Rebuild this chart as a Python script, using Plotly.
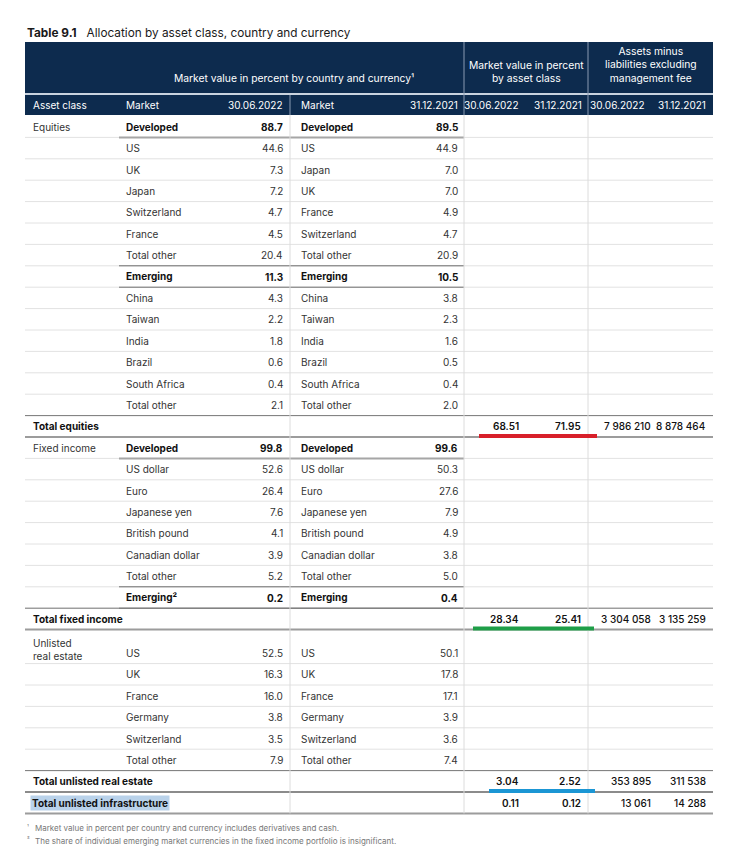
import plotly.graph_objects as go

# ---- data -------------------------------------------------------------
title_bold = "Table 9.1"
title_text = "Allocation by asset class, country and currency"

group_headers = [
    "Market value in percent by country and currency¹",
    "Market value in percent<br>by asset class",
    "Assets minus<br>liabilities excluding<br>management fee",
]
col_headers = ["Asset class", "Market", "30.06.2022", "Market", "31.12.2021",
               "30.06.2022", "31.12.2021", "30.06.2022", "31.12.2021"]

eq_market_22 = ["Developed", "US", "UK", "Japan", "Switzerland", "France", "Total other",
                "Emerging", "China", "Taiwan", "India", "Brazil", "South Africa", "Total other"]
eq_value_22 = [88.7, 44.6, 7.3, 7.2, 4.7, 4.5, 20.4, 11.3, 4.3, 2.2, 1.8, 0.6, 0.4, 2.1]
eq_market_21 = ["Developed", "US", "Japan", "UK", "France", "Switzerland", "Total other",
                "Emerging", "China", "Taiwan", "India", "Brazil", "South Africa", "Total other"]
eq_value_21 = [89.5, 44.9, 7.0, 7.0, 4.9, 4.7, 20.9, 10.5, 3.8, 2.3, 1.6, 0.5, 0.4, 2.0]

fi_market_22 = ["Developed", "US dollar", "Euro", "Japanese yen", "British pound",
                "Canadian dollar", "Total other", "Emerging²"]
fi_value_22 = [99.8, 52.6, 26.4, 7.6, 4.1, 3.9, 5.2, 0.2]
fi_market_21 = ["Developed", "US dollar", "Euro", "Japanese yen", "British pound",
                "Canadian dollar", "Total other", "Emerging"]
fi_value_21 = [99.6, 50.3, 27.6, 7.9, 4.9, 3.8, 5.0, 0.4]

re_market_22 = ["US", "UK", "France", "Germany", "Switzerland", "Total other"]
re_value_22 = [52.5, 16.3, 16.0, 3.8, 3.5, 7.9]
re_market_21 = ["US", "UK", "France", "Germany", "Switzerland", "Total other"]
re_value_21 = [50.1, 17.8, 17.1, 3.9, 3.6, 7.4]

total_labels = ["Total equities", "Total fixed income", "Total unlisted real estate",
                "Total unlisted infrastructure"]
total_pct_22 = [68.51, 28.34, 3.04, 0.11]
total_pct_21 = [71.95, 25.41, 2.52, 0.12]
total_amt_22 = [7986210, 3304058, 353895, 13061]
total_amt_21 = [8878464, 3135259, 311538, 14288]

footnotes = [
    ("¹", "Market value in percent per country and currency includes derivatives and cash."),
    ("²", "The share of individual emerging market currencies in the fixed income portfolio is insignificant."),
]

# ---- layout constants ---------------------------------------------------
FONT = "Inter, Roboto, sans-serif"
NAVY = "#0d2b4e"
PAGE_OFF = 8  # body margin of the html page
LEFT, RIGHT = 25, 713
X_ASSET, X_M22, X_V22, X_M21, X_V21 = 31, 124, 285, 299, 460
X_P22, X_P21, X_A22, X_A21 = 521, 583, 653, 708
SEP1, SEP2, SEP3 = 290, 464, 588
HEAD_TOP, HEAD_MID, HEAD_BOT = 42, 93, 115
ROW_H, TALL_H = 21.4, 34


def fmt_amt(v):
    return f"{v:,}".replace(",", " ")


rows = []


def add_section(asset, m22, v22, m21, v21, tall_first=False):
    for i in range(len(m22)):
        kind = "group" if m22[i].startswith(("Developed", "Emerging")) else "sub"
        rows.append(dict(kind=kind, asset=asset if i == 0 else "", m22=m22[i], v22=v22[i],
                         m21=m21[i], v21=v21[i], h=TALL_H if (tall_first and i == 0) else ROW_H))


def add_total(k):
    rows.append(dict(kind="total", asset=total_labels[k], p22=total_pct_22[k], p21=total_pct_21[k],
                     a22=total_amt_22[k], a21=total_amt_21[k], h=ROW_H, idx=k))


add_section("Equities", eq_market_22, eq_value_22, eq_market_21, eq_value_21)
add_total(0)
add_section("Fixed income", fi_market_22, fi_value_22, fi_market_21, fi_value_21)
add_total(1)
add_section("Unlisted<br>real estate", re_market_22, re_value_22, re_market_21, re_value_21, tall_first=True)
add_total(2)
add_total(3)

fig = go.Figure()
shapes, ann = [], []


def text(x, y, s, anchor="left", size=10, color="#333333", bold=False, weight=None, **kw):
    f = dict(family=FONT, size=size, color=color)
    if weight:
        f["weight"] = weight
    ann.append(dict(x=x, y=y, xref="x", yref="y", text=f"<b>{s}</b>" if bold else s,
                    showarrow=False, xanchor=anchor, yanchor=kw.pop("yanchor", "middle"),
                    font=f, **kw))


def hline(y, x0, x1, color, width):
    shapes.append(dict(type="line", xref="x", yref="y", x0=x0, x1=x1, y0=y, y1=y,
                       line=dict(color=color, width=width)))


def vline(x, y0, y1, color, width=1):
    shapes.append(dict(type="line", xref="x", yref="y", x0=x, x1=x, y0=y0, y1=y1,
                       line=dict(color=color, width=width)))


# title
text(LEFT, 33, f"<b>{title_bold}</b>&nbsp;&nbsp;&nbsp;{title_text}", size=11.8, color="#1a1a1a")

# header
shapes.append(dict(type="rect", xref="x", yref="y", x0=LEFT, x1=RIGHT, y0=HEAD_TOP, y1=HEAD_BOT,
                   fillcolor=NAVY, line=dict(width=0), layer="below"))
hline(HEAD_MID + 1, LEFT, RIGHT, "#c9d3df", 2)
text((X_M22 + SEP2) / 2, 78, group_headers[0], anchor="center", color="white", size=10.3)
text((SEP2 + SEP3) / 2, 86, group_headers[1], anchor="center", color="white", size=10.3,
     yanchor="bottom")
text((SEP3 + RIGHT) / 2, 86, group_headers[2], anchor="center", color="white", size=10.3,
     yanchor="bottom")
hy = (HEAD_MID + 2 + HEAD_BOT) / 2
head_x = [(X_ASSET, "left"), (X_M22, "left"), (X_V22, "right"), (X_M21, "left"), (X_V21, "right"),
          (X_P22, "right"), (X_P21 + 1, "right"), (647, "right"), (X_A21, "right")]
for (x, a), h in zip(head_x, col_headers):
    text(x, hy, h, anchor=a, color="white")

# rows
y = HEAD_BOT + 1
bounds = []
for r in rows:
    bounds.append((y, y + r["h"]))
    y += r["h"]
TABLE_BOT = y

for top, bot in bounds:
    hline(bot, LEFT, RIGHT, "#e2e2e2", 1)

for r, (top, bot) in zip(rows, bounds):
    mid = (top + bot) / 2
    if r["kind"] == "total":
        hline(top, LEFT, RIGHT, "#7a7a7a", 1)
        hline(bot, LEFT, RIGHT, "#9c9c9c", 2)
        if r["idx"] == 3:
            ann.append(dict(x=X_ASSET - 1, y=mid, xref="x", yref="y", text=f"<b>{r['asset']}</b>",
                            showarrow=False, xanchor="left", yanchor="middle", bgcolor="#b9d2ea",
                            borderpad=1, font=dict(family=FONT, size=10, color="#111111")))
        else:
            text(X_ASSET, mid, r["asset"], bold=True, color="#111111")
        text(X_P22, mid, f"{r['p22']:.2f}", anchor="right", weight=600, color="#111111")
        text(X_P21, mid, f"{r['p21']:.2f}", anchor="right", weight=600, color="#111111")
        text(X_A22, mid, fmt_amt(r["a22"]), anchor="right", weight=500, color="#111111")
        text(X_A21, mid, fmt_amt(r["a21"]), anchor="right", weight=500, color="#111111")
    else:
        bold = r["kind"] == "group"
        if r["asset"]:
            tall = r["h"] > ROW_H
            text(X_ASSET, top + 5 if tall else mid, r["asset"], anchor="left", align="left",
                 yanchor="top" if tall else "middle")
        vy = bot - ROW_H / 2
        c = "#111111" if bold else "#333333"
        text(X_M22, vy, r["m22"], bold=bold, color=c)
        text(X_V22, vy, f"{r['v22']:.1f}", anchor="right", bold=bold, color=c)
        text(X_M21, vy, r["m21"], bold=bold, color=c)
        text(X_V21, vy, f"{r['v21']:.1f}", anchor="right", bold=bold, color=c)
        if r["m22"] == "Developed":
            hline(bot, X_M22 - 5, SEP2, "#a6a6a6", 2)
        elif bold:
            hline(top, X_M22 - 5, SEP2, "#6e6e6e", 1)
            hline(bot, X_M22 - 5, SEP2, "#6e6e6e", 1)

# vertical separators
vline(SEP1, HEAD_MID + 2, HEAD_BOT, "#8a9bb2")
vline(SEP2, HEAD_TOP, HEAD_BOT, "#8a9bb2")
vline(SEP3, HEAD_TOP, HEAD_BOT, "#8a9bb2")
for x in (SEP1, SEP2, SEP3):
    vline(x, HEAD_BOT, TABLE_BOT, "#dcdcdc")

# hand-drawn underline marks below the first three totals
mark_colors = ["#d81f2a", "#1e9e48", "#1b96d4"]
mark_x = [(479, 597), (473, 594), (489, 595)]
totals = [b for r, b in zip(rows, bounds) if r["kind"] == "total"]
for (top, bot), col, (x0, x1) in zip(totals[:3], mark_colors, mark_x):
    hline(bot - 1, x0, x1, col, 4)

# footnotes
for i, (mark, note) in enumerate(footnotes):
    fy = TABLE_BOT + 15 + i * 12.5
    text(LEFT, fy - 2, mark, size=6, color="#777777")
    text(LEFT + 8, fy, note, size=8, color="#777777")

fig.update_layout(
    width=739, height=866, margin=dict(l=0, r=0, t=0, b=0),
    paper_bgcolor="white", plot_bgcolor="white",
    xaxis=dict(range=[PAGE_OFF, 739 + PAGE_OFF], visible=False, fixedrange=True),
    yaxis=dict(range=[866 + PAGE_OFF, PAGE_OFF], visible=False, fixedrange=True),
    shapes=shapes, annotations=ann, showlegend=False,
)
fig.write_html("out.html", config={"displayModeBar": False})
